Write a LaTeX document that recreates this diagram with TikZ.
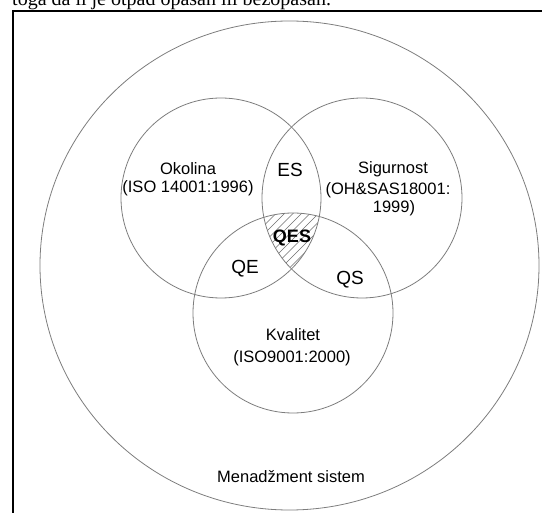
\documentclass[tikz,border=0pt]{standalone}
\usepackage{fontspec}
\setmainfont{Liberation Sans}
\newfontfamily\serifface{Liberation Serif}
\begin{document}
\begin{tikzpicture}[x=1pt,y=-1pt,
  ring/.style={draw={rgb,255:red,125;green,125;blue,125}, line width=0.8pt},
  frame/.style={draw=black, line width=2.4pt},
  hatch/.style={draw={rgb,255:red,110;green,110;blue,110}, line width=0.6pt},
  lbl/.style={font=\fontsize{16.5}{18}\selectfont, inner sep=0pt, anchor=base},
  big/.style={font=\fontsize{19}{21}\selectfont, inner sep=0pt, anchor=base},
  bigb/.style={font=\fontsize{18}{21}\selectfont\bfseries, inner sep=0pt, anchor=base}]
\clip (0,0) rectangle (542,513);
\useasboundingbox (0,0) rectangle (542,513);
% page text and frame
\node[font=\serifface\fontsize{20}{22}\selectfont, inner sep=0pt, anchor=base west] (pagetext) at (12,5.5) {toga da li je otpad opasan ili bezopasan.};
\draw[frame] (13,560) -- (13,11) -- (600,11);
% hatching of QES
\begin{scope}
  \clip (221,198) circle [radius=100pt];
  \clip (362,198) circle [radius=100pt];
  \clip (293,313) circle [radius=100pt];
  \foreach \i in {-10,...,10} {
    \draw[hatch] (292+\i*8.5-60,240+60) -- (292+\i*8.5+60,240-60);
  }
\end{scope}
% circles
\draw[ring] (289.5,265.5) ellipse [x radius=249.5pt, y radius=244.5pt];
\draw[ring] (221,198) circle [radius=100pt];
\draw[ring] (362,198) circle [radius=100pt];
\draw[ring] (293,313) circle [radius=100pt];
% labels
\node[lbl] (oko1) at (188,175) {Okolina};
\node[lbl] (oko2) at (188,193) {(ISO 14001:1996)};
\node[lbl] (sig1) at (393,174) {Sigurnost};
\node[lbl] (sig2) at (388,195) {(OH\&SAS18001:};
\node[lbl] (sig3) at (394,213) {1999)};
\node[big] (es) at (290,177) {ES};
\node[bigb] (qes) at (292,243) {QES};
\node[big] (qe) at (245,274) {QE};
\node[big] (qs) at (350,285) {QS};
\node[lbl] (kva1) at (293,341) {Kvalitet};
\node[lbl] (kva2) at (292,363) {(ISO9001:2000)};
\node[lbl] (ms) at (291,483) {Menadžment sistem};
\end{tikzpicture}
\end{document}
